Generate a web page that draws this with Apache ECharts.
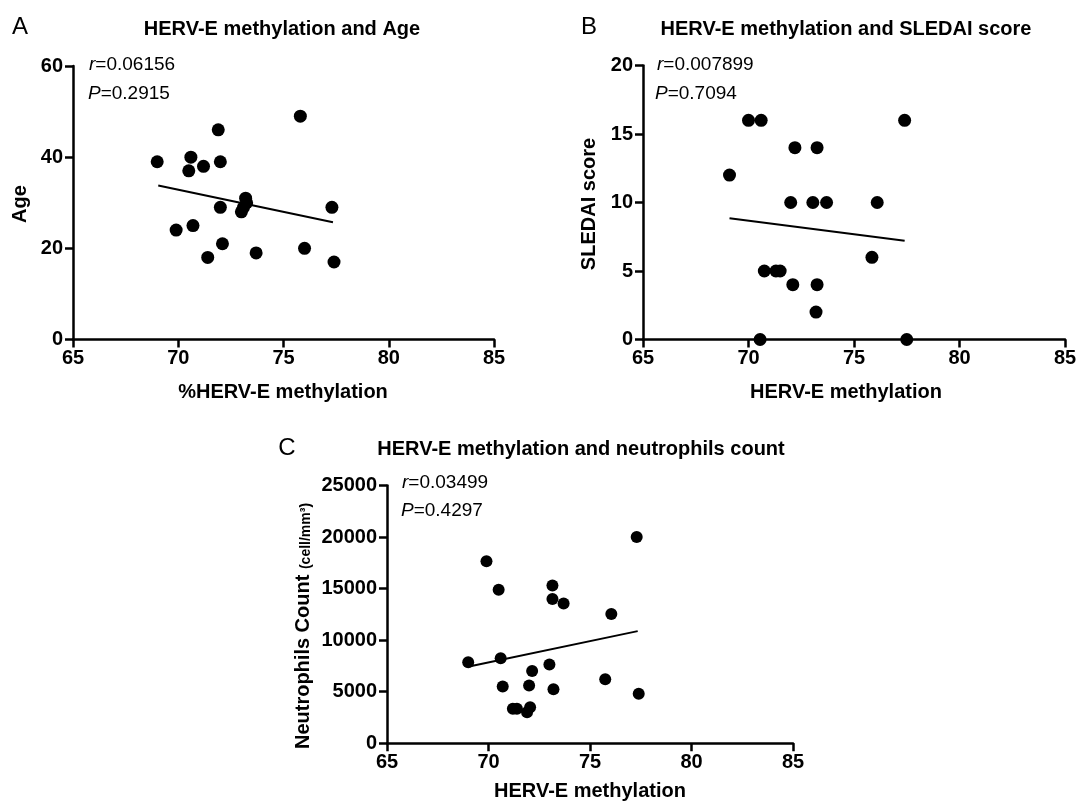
<!DOCTYPE html>
<html>
<head>
<meta charset="utf-8">
<script src="https://cdn.jsdelivr.net/npm/echarts@6/dist/echarts.min.js"></script>
<style>
  html, body { margin: 0; padding: 0; background: #fff; }
  #chart { width: 1080px; height: 801px; }
</style>
</head>
<body>
<div id="chart"></div>
<script>
// HERV-E methylation (%) for each patient, paired with age, SLEDAI score and neutrophil count
const methylAge = [69.0, 69.9, 70.5, 70.6, 70.7, 71.2, 71.4, 71.9, 72.0, 72.0, 72.1, 73.0, 73.1, 73.2, 73.25, 73.7, 75.8, 76.0, 77.3, 77.4];
const age       = [39,   24,   37,   40,   25,   38,   18,   46,   39,   29,   21,   28,   29,   31,   30,    19,   49,   20,   29,   17];

const methylSledai = [69.1, 70.0, 70.55, 70.6, 70.75, 71.3, 71.5, 72.0, 72.1, 72.2, 73.05, 73.2, 73.25, 73.25, 73.7, 75.85, 76.1, 77.4, 77.5];
const sledai       = [12,   16,   0,     16,   5,     5,    5,    10,   4,    14,   10,    2,    14,    4,     10,   6,     10,   16,   0];

const methylNeut = [69.0, 69.9, 70.5, 70.6, 70.7, 71.2, 71.4, 71.9, 72.0, 72.05, 72.15, 73.0, 73.15, 73.15, 73.2, 73.7, 75.75, 76.05, 77.3, 77.4];
const neutrophils = [7850, 17650, 14900, 8250, 5500, 3350, 3350, 3000, 5600, 3500, 7000, 7650, 14000, 15300, 5250, 13550, 6200, 12550, 20000, 4800];

// fitted regression lines (end points)
const fitAgeX = [69.05, 77.35],    fitAgeY = [33.8, 25.7];
const fitSledaiX = [69.1, 77.4],   fitSledaiY = [8.85, 7.2];
const fitNeutX = [69.1, 77.35],    fitNeutY = [7480, 10880];

// axis ticks
const methylTicks = [65, 70, 75, 80, 85];
const ageTicks = [0, 20, 40, 60];
const sledaiTicks = [0, 5, 10, 15, 20];
const neutTicks = [0, 5000, 10000, 15000, 20000, 25000];

// correlation statistics
const statsAge = { r: '0.06156', p: '0.2915' };
const statsSledai = { r: '0.007899', p: '0.7094' };
const statsNeut = { r: '0.03499', p: '0.4297' };

const FONT = '"Liberation Sans", Arial, sans-serif';
const AXIS_W = 2.5;

function pairs(xs, ys) { return xs.map((x, i) => [x, ys[i]]); }

function xAxisFor(gridIndex) {
  return {
    type: 'value', gridIndex,
    min: methylTicks[0], max: methylTicks[methylTicks.length - 1],
    interval: methylTicks[1] - methylTicks[0],
    splitLine: { show: false },
    axisLine: { show: true, onZero: false, lineStyle: { color: '#000', width: AXIS_W } },
    axisTick: { show: true, length: 8, lineStyle: { color: '#000', width: AXIS_W } },
    axisLabel: { color: '#000', fontFamily: FONT, fontWeight: 'bold', fontSize: 20, margin: 9 }
  };
}
function yAxisFor(gridIndex, ticks) {
  return {
    type: 'value', gridIndex,
    min: ticks[0], max: ticks[ticks.length - 1],
    interval: ticks[1] - ticks[0],
    splitLine: { show: false },
    axisLine: { show: true, onZero: false, lineStyle: { color: '#000', width: AXIS_W } },
    axisTick: { show: true, length: 8, lineStyle: { color: '#000', width: AXIS_W } },
    axisLabel: {
      color: '#000', fontFamily: FONT, fontWeight: 'bold', fontSize: 20, margin: 10,
      formatter: v => String(v)
    }
  };
}
function scatter(idx, xs, ys, size) {
  return {
    type: 'scatter', xAxisIndex: idx, yAxisIndex: idx,
    data: pairs(xs, ys), symbolSize: size,
    itemStyle: { color: '#000', opacity: 1 }, z: 3
  };
}
function fit(idx, xs, ys) {
  return {
    type: 'line', xAxisIndex: idx, yAxisIndex: idx,
    data: pairs(xs, ys), showSymbol: false, symbol: 'none',
    lineStyle: { color: '#000', width: 2 }, z: 2
  };
}

function text(x, y, str, size, weight, opts) {
  opts = opts || {};
  return {
    type: 'text', x, y, rotation: opts.rotation || 0, silent: true,
    style: {
      text: str, fill: '#000', fontFamily: FONT, fontSize: size, fontWeight: weight,
      textAlign: opts.align || 'center', textVerticalAlign: 'middle',
      rich: opts.rich
    }
  };
}
function stat(x, y, letter, value) {
  const base = { fontFamily: FONT, fontSize: 19, fill: '#000', color: '#000' };
  return text(x, y, '{i|' + letter + '}{n|=' + value + '}', 19, 'normal', {
    align: 'left',
    rich: { i: Object.assign({ fontStyle: 'italic' }, base), n: base }
  });
}

const chart = echarts.init(document.getElementById('chart'), null, { renderer: 'canvas' });
chart.setOption({
  backgroundColor: '#fff',
  animation: false,
  grid: [
    { left: 73, top: 66, width: 421, height: 273.5 },
    { left: 643, top: 65.5, width: 422, height: 274 },
    { left: 387, top: 485.5, width: 406, height: 257.8 }
  ],
  xAxis: [xAxisFor(0), xAxisFor(1), xAxisFor(2)],
  yAxis: [yAxisFor(0, ageTicks), yAxisFor(1, sledaiTicks), yAxisFor(2, neutTicks)],
  series: [
    fit(0, fitAgeX, fitAgeY), scatter(0, methylAge, age, 13),
    fit(1, fitSledaiX, fitSledaiY), scatter(1, methylSledai, sledai, 13),
    fit(2, fitNeutX, fitNeutY), scatter(2, methylNeut, neutrophils, 12)
  ],
  graphic: [
    // panel letters
    text(20, 27, 'A', 24, 'normal'),
    text(589, 27, 'B', 24, 'normal'),
    text(287, 448, 'C', 24, 'normal'),
    // panel titles
    text(282, 29, 'HERV-E methylation and Age', 20, 'bold'),
    text(846, 29, 'HERV-E methylation and SLEDAI score', 20, 'bold'),
    text(581, 449, 'HERV-E methylation and neutrophils count', 20, 'bold'),
    // x axis names
    text(283, 392, '%HERV-E methylation', 20, 'bold'),
    text(846, 392, 'HERV-E methylation', 20, 'bold'),
    text(590, 791, 'HERV-E methylation', 20, 'bold'),
    // y axis names
    text(20, 204, 'Age', 20, 'bold', { rotation: Math.PI / 2 }),
    text(589, 204, 'SLEDAI score', 20, 'bold', { rotation: Math.PI / 2 }),
    text(303, 626, '{a|Neutrophils Count }{b|(cell/mm³)}', 20, 'bold', {
      rotation: Math.PI / 2,
      rich: {
        a: { fontFamily: FONT, fontSize: 20, fontWeight: 'bold', fill: '#000', verticalAlign: 'bottom' },
        b: { fontFamily: FONT, fontSize: 14, fontWeight: 'bold', fill: '#000', verticalAlign: 'bottom' }
      }
    }),
    // correlation annotations
    stat(89, 65, 'r', statsAge.r), stat(88, 94, 'P', statsAge.p),
    stat(657, 65, 'r', statsSledai.r), stat(655, 94, 'P', statsSledai.p),
    stat(402, 483, 'r', statsNeut.r), stat(401, 511, 'P', statsNeut.p)
  ]
});
</script>
</body>
</html>
